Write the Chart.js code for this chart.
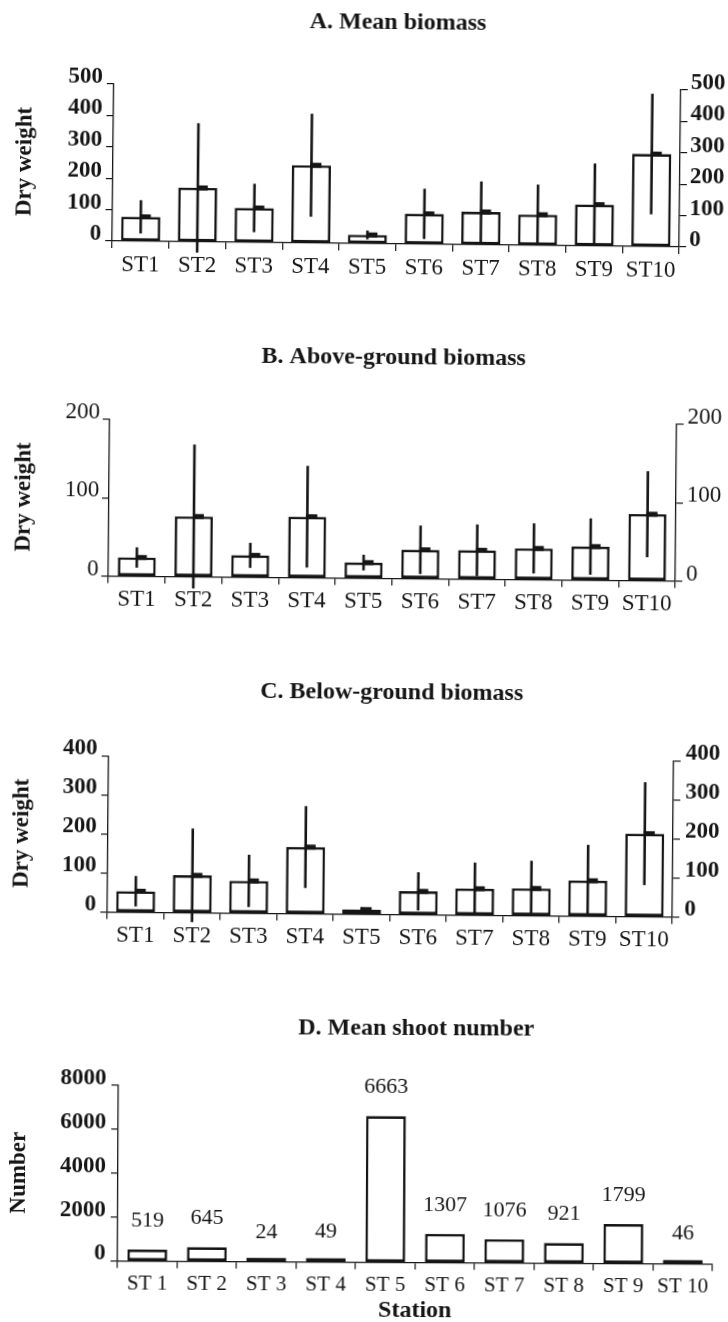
<!DOCTYPE html>
<html>
<head>
<meta charset="utf-8">
<script src="https://cdn.jsdelivr.net/npm/chart.js@4.4.1/dist/chart.umd.min.js"></script>
<style>
html, body { margin: 0; padding: 0; background: #fff; overflow: hidden; }
#page { position: relative; width: 728px; height: 1322px; overflow: hidden; background: #fff; }
.panel { position: absolute; left: 0; width: 728px; }
canvas { display: block; }
</style>
</head>
<body>
<div id="page">
  <div class="panel" style="top:0px;height:290px;transform:rotate(0.6deg);transform-origin:396.5px 165.5px"><canvas id="cA" width="728" height="290"></canvas></div>
  <div class="panel" style="top:300px;height:325px;transform:rotate(0.5deg);transform-origin:392.5px 200px"><canvas id="cB" width="728" height="325"></canvas></div>
  <div class="panel" style="top:630px;height:332px;transform:rotate(0.5deg);transform-origin:390.5px 206.5px"><canvas id="cC" width="728" height="332"></canvas></div>
  <div class="panel" style="top:965px;height:360px;transform:rotate(0.3deg);transform-origin:415.5px 210px"><canvas id="cD" width="728" height="360"></canvas></div>
</div>
<script>
// ---------------- data ----------------
const stations  = ['ST1', 'ST2', 'ST3', 'ST4', 'ST5', 'ST6', 'ST7', 'ST8', 'ST9', 'ST10'];
const stationsD = ['ST 1', 'ST 2', 'ST 3', 'ST 4', 'ST 5', 'ST 6', 'ST 7', 'ST 8', 'ST 9', 'ST 10'];

// A. Mean biomass (dry weight)
const meanBiomass    = [78, 172, 110, 248, 28, 97, 105, 98, 132, 295];
const meanBiomassErr = [53, 206, 77, 164, 14, 80, 97, 96, 131, 192];
const ticksA = [0, 100, 200, 300, 400, 500];

// B. Above-ground biomass
const aboveBiomass    = [24, 77, 28, 78, 20, 37, 37, 40, 43, 85];
const aboveBiomassErr = [13, 92, 16, 65, 10, 31, 33, 32, 36, 55];
const ticksB = [0, 100, 200];

// C. Below-ground biomass
const belowBiomass    = [54, 96, 83, 171, 12, 60, 68, 70, 91, 213];
const belowBiomassErr = [39, 120, 67, 105, 6, 49, 67, 71, 92, 132];
const ticksC = [0, 100, 200, 300, 400];

// D. Mean shoot number
const shootNumber = [519, 645, 24, 49, 6663, 1307, 1076, 921, 1799, 46];
const ticksD = [0, 2000, 4000, 6000, 8000];

// ---------------- styling ----------------
const SERIF = '"Liberation Serif", "Times New Roman", Times, serif';
const INK = '#151515';
Chart.defaults.font.family = SERIF;
Chart.defaults.color = INK;

function errorBarPlugin(errs) {
  return {
    id: 'errBars',
    afterDatasetsDraw(chart) {
      const ctx = chart.ctx;
      const ys = chart.scales.y;
      const meta = chart.getDatasetMeta(0);
      const vals = chart.data.datasets[0].data;
      ctx.save();
      ctx.strokeStyle = INK;
      ctx.fillStyle = INK;
      ctx.lineWidth = 2.6;
      meta.data.forEach((bar, i) => {
        const m = vals[i], e = errs[i];
        const x = bar.x;
        ctx.beginPath();
        ctx.moveTo(x, ys.getPixelForValue(m + e));
        ctx.lineTo(x, ys.getPixelForValue(m - e));
        ctx.stroke();
        const ym = ys.getPixelForValue(m);
        ctx.fillRect(x - 1, ym - 2.5, 11, 5);
      });
      ctx.restore();
    }
  };
}

const valueLabelPlugin = {
  id: 'valueLabels',
  afterDatasetsDraw(chart) {
    const ctx = chart.ctx;
    const ys = chart.scales.y;
    const meta = chart.getDatasetMeta(0);
    const vals = chart.data.datasets[0].data;
    ctx.save();
    ctx.font = '22px ' + SERIF;
    ctx.fillStyle = INK;
    ctx.textAlign = 'center';
    ctx.textBaseline = 'middle';
    meta.data.forEach((bar, i) => {
      ctx.fillText(String(vals[i]), bar.x, ys.getPixelForValue(vals[i]) - 29);
    });
    ctx.restore();
  }
};

function yScale(ticks, pos, g, withTitle, yTitle) {
  const s = {
    type: 'linear',
    position: pos,
    min: ticks[0],
    max: ticks[ticks.length - 1],
    afterBuildTicks: sc => { sc.ticks = ticks.map(v => ({ value: v })); },
    afterFit: sc => { sc.width = pos === 'left' ? g.leftW : g.rightW; },
    grid: { drawOnChartArea: false, drawTicks: true, tickLength: 7, color: INK, lineWidth: 1.2 },
    border: { display: true, color: INK, width: 1.3 },
    ticks: {
      font: { size: 23, weight: g.tickBold ? 'bold' : 'normal' },
      padding: pos === 'left' ? g.tickPadL : g.tickPadR,
      labelOffset: g.labelOffset,
      color: INK,
      callback: v => String(v)
    },
    title: { display: false }
  };
  if (withTitle) {
    s.title = {
      display: true,
      text: yTitle,
      font: { size: 23, weight: 'bold' },
      padding: { top: g.yTitlePad, bottom: 0 },
      color: INK
    };
  }
  return s;
}

function makePanel(id, labels, values, errs, ticks, titleText, yTitle, g) {
  const scales = {
    x: {
      type: 'category',
      offset: true,
      afterFit: sc => { sc.height = g.xH; },
      grid: { offset: true, drawOnChartArea: false, drawTicks: true, tickLength: 7, color: INK, lineWidth: 1.2 },
      border: { display: true, color: INK, width: 1.3 },
      ticks: { font: { size: g.xFont }, padding: 3, color: INK, maxRotation: 0, autoSkip: false },
      title: g.xTitle ? {
        display: true, text: g.xTitle,
        font: { size: 24, weight: 'bold' },
        padding: { top: 0, bottom: 0 }, color: INK
      } : { display: false }
    },
    y: yScale(ticks, 'left', g, true, yTitle)
  };
  if (g.rightW) scales.y2 = yScale(ticks, 'right', g, false);

  const plugins = [];
  if (errs) plugins.push(errorBarPlugin(errs));
  if (g.valueLabels) plugins.push(valueLabelPlugin);

  return new Chart(document.getElementById(id), {
    type: 'bar',
    data: {
      labels: labels,
      datasets: [{
        data: values,
        backgroundColor: '#ffffff',
        borderColor: INK,
        borderWidth: 2.6,
        borderSkipped: false,
        barPercentage: g.barPct,
        categoryPercentage: 1,
        minBarLength: g.minBar || 0,
        yAxisID: 'y'
      }]
    },
    options: {
      responsive: false,
      maintainAspectRatio: false,
      animation: false,
      devicePixelRatio: 1,
      layout: { padding: { left: 0, right: g.padRight || 0, top: 0, bottom: 0 } },
      scales: scales,
      plugins: {
        legend: { display: false },
        tooltip: { enabled: false },
        title: {
          display: true,
          text: titleText,
          fullSize: false,
          color: INK,
          font: { size: 24, weight: 'bold', lineHeight: 1.2 },
          padding: { top: g.titleTop, bottom: g.titleBottom }
        }
      }
    },
    plugins: plugins
  });
}

makePanel('cA', stations, meanBiomass, meanBiomassErr, ticksA, 'A. Mean biomass', 'Dry weight', {
  leftW: 113, rightW: 48, titleTop: 8.6, titleBottom: 49.6, xH: 46, yTitlePad: 11.2,
  tickPadL: 4, tickPadR: 3, labelOffset: -7, barPct: 0.69, tickBold: true, xFont: 23
});
makePanel('cB', stations, aboveBiomass, aboveBiomassErr, ticksB, 'B. Above-ground biomass', 'Dry weight', {
  leftW: 109, rightW: 52, titleTop: 43.6, titleBottom: 49.6, xH: 46.5, yTitlePad: 10.2,
  tickPadL: 2.7, tickPadR: 3.7, labelOffset: -7, barPct: 0.67, tickBold: false, xFont: 23
});
makePanel('cC', stations, belowBiomass, belowBiomassErr, ticksC, 'C. Below-ground biomass', 'Dry weight', {
  leftW: 108, rightW: 55, titleTop: 48.6, titleBottom: 51.1, xH: 47.5, yTitlePad: 8.2,
  tickPadL: 4.3, tickPadR: 5, labelOffset: -7, barPct: 0.69, tickBold: true, xFont: 23
});
makePanel('cD', stationsD, shootNumber, null, ticksD, 'D. Mean shoot number', 'Number', {
  leftW: 118, rightW: 0, padRight: 15, titleTop: 49.6, titleBottom: 43.6, xH: 62.5, yTitlePad: 5.2,
  tickPadL: 5, labelOffset: -7, barPct: 0.67, tickBold: true, xFont: 21,
  valueLabels: true, minBar: 4, xTitle: 'Station'
});
</script>
</body>
</html>
